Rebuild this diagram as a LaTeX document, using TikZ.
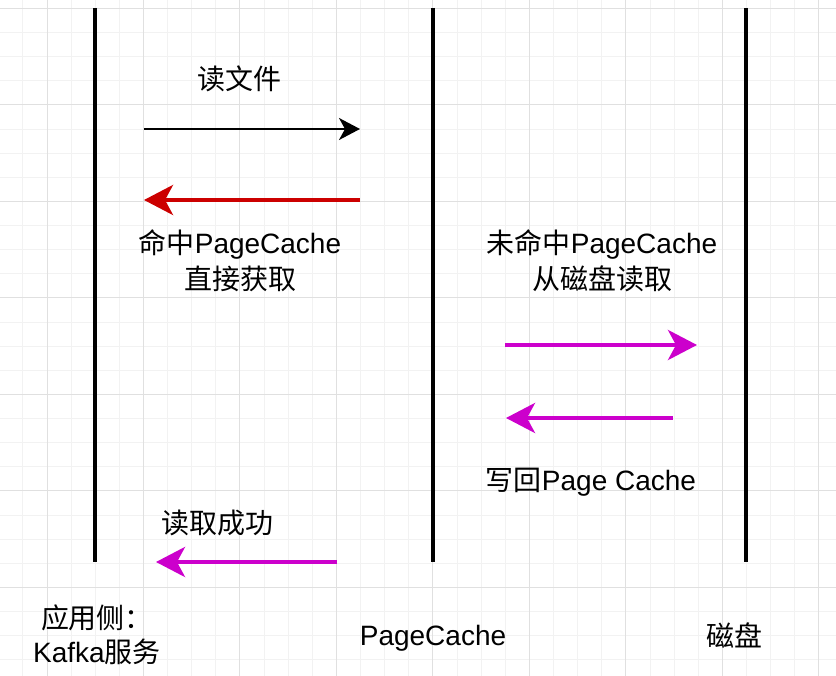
\documentclass[tikz,border=0pt]{standalone}
\usepackage{fontspec}
\setmainfont{Liberation Sans}
\newfontfamily\cjk{Noto Sans CJK SC}
\usetikzlibrary{arrows.meta}
\definecolor{myred}{HTML}{CC0000}
\definecolor{mymag}{HTML}{CC00CC}
\definecolor{gridminor}{HTML}{F2F2F2}
\definecolor{gridmajor}{HTML}{E0E0E0}
\begin{document}
\begin{tikzpicture}[x=1pt,y=-1pt,
  lifeline/.style={line width=4.5pt, black},
  blackarrow/.style={line width=2pt, black, -{Stealth[length=21pt,width=22pt,inset=6pt]}},
  redarrow/.style={line width=4pt, myred, -{Stealth[length=29pt,width=30pt,inset=8pt]}},
  magarrow/.style={line width=4pt, mymag, -{Stealth[length=29pt,width=30pt,inset=8pt]}},
  lbl/.style={font=\fontsize{28}{34}\selectfont, inner sep=0pt, anchor=base},
  minorline/.style={gridminor, line width=1pt},
  majorline/.style={gridmajor, line width=1pt}]
\useasboundingbox (0,0) rectangle (836,676);
\fill[white] (0,0) rectangle (836,676);
% grid
\foreach \i in {0,...,34} {\pgfmathsetmacro\xx{22.9+24.12*\i} \draw[minorline] (\xx,0) -- (\xx,676);}
\foreach \j in {0,...,27} {\pgfmathsetmacro\yy{8.5+24.12*\j} \draw[minorline] (0,\yy) -- (836,\yy);}
\foreach \i in {1,5,...,33} {\pgfmathsetmacro\xx{22.9+24.12*\i} \draw[majorline] (\xx,0) -- (\xx,676);}
\foreach \j in {0,4,...,27} {\pgfmathsetmacro\yy{8.5+24.12*\j} \draw[majorline] (0,\yy) -- (836,\yy);}
% lifelines
\coordinate (appTop) at (95,8);   \coordinate (appBot) at (95,562);
\coordinate (pcTop) at (433,8);   \coordinate (pcBot) at (433,562);
\coordinate (diskTop) at (746,8); \coordinate (diskBot) at (746,562);
\draw[lifeline] (appTop) -- (appBot);
\draw[lifeline] (pcTop) -- (pcBot);
\draw[lifeline] (diskTop) -- (diskBot);
% arrows
\coordinate (a1s) at (144,129); \coordinate (a1e) at (360,129);
\coordinate (a2s) at (360,200); \coordinate (a2e) at (144,200);
\coordinate (a3s) at (505,345); \coordinate (a3e) at (697,345);
\coordinate (a4s) at (673,418); \coordinate (a4e) at (506,418);
\coordinate (a5s) at (337,562); \coordinate (a5e) at (156,562);
\draw[blackarrow] (a1s) -- (a1e);
\draw[redarrow] (a2s) -- (a2e);
\draw[magarrow] (a3s) -- (a3e);
\draw[magarrow] (a4s) -- (a4e);
\draw[magarrow] (a5s) -- (a5e);
% labels
\node[lbl] (readfile) at (239,90) {\cjk 读文件};
\node[lbl] (hit1) at (240,254) {{\cjk 命中}PageCache};
\node[lbl] (hit2) at (240,290) {\cjk 直接获取};
\node[lbl] (miss1) at (602,254) {{\cjk 未命中}PageCache};
\node[lbl] (miss2) at (602,290) {\cjk 从磁盘读取};
\node[lbl] (writeback) at (591,490) {{\cjk 写回}Page Cache};
\node[lbl] (success) at (217,533) {\cjk 读取成功};
\node[lbl] (app1) at (97,628) {\cjk 应用侧：};
\node[lbl] (app2) at (97,662) {Kafka{\cjk 服务}};
\node[lbl] (pclabel) at (433,645) {PageCache};
\node[lbl] (disklabel) at (734,646) {\cjk 磁盘};
\end{tikzpicture}
\end{document}
